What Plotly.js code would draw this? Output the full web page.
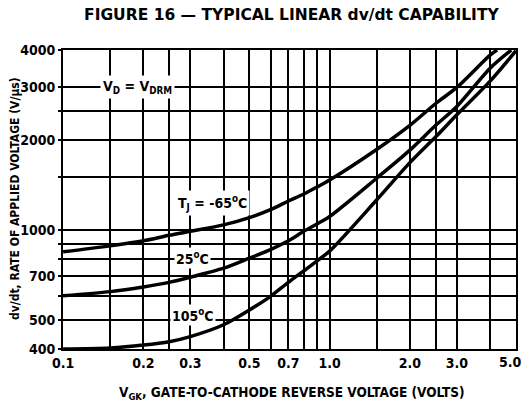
<!DOCTYPE html>
<html>
<head>
<meta charset="utf-8">
<script src="https://cdn.plot.ly/plotly-3.0.1.min.js"></script>
<style>html,body{margin:0;padding:0;background:#fff;}#chart{width:525px;height:406px;}</style>
</head>
<body>
<div id="chart"></div>
<script>
// Gate-to-cathode reverse voltage (V) and dv/dt (V/us)
const vgkMinus65 = [0.1, 0.15, 0.2, 0.25, 0.3, 0.4, 0.5, 0.6, 0.7, 0.8, 0.9, 1.0, 1.5, 2.0, 2.5, 3.0, 4.0, 4.25];
const dvdtMinus65 = [845, 885, 920, 960, 990, 1040, 1100, 1170, 1250, 1320, 1395, 1470, 1860, 2240, 2650, 3000, 3850, 4000];

const vgk25 = [0.1, 0.15, 0.2, 0.25, 0.3, 0.4, 0.5, 0.6, 0.7, 0.8, 0.9, 1.0, 1.5, 2.0, 2.5, 3.0, 4.0, 4.8];
const dvdt25 = [602, 622, 645, 668, 695, 745, 805, 860, 920, 990, 1050, 1110, 1490, 1850, 2240, 2590, 3480, 4000];

const vgk105 = [0.1, 0.15, 0.2, 0.25, 0.3, 0.4, 0.5, 0.6, 0.7, 0.8, 0.9, 1.0, 1.5, 2.0, 2.5, 3.0, 4.0, 5.0];
const dvdt105 = [400, 403, 412, 423, 440, 482, 540, 600, 668, 730, 790, 850, 1260, 1680, 2050, 2430, 3150, 3980];

const xGrid = [0.1, 0.15, 0.2, 0.25, 0.3, 0.4, 0.5, 0.6, 0.7, 0.8, 0.9, 1.0, 1.5, 2.0, 2.5, 3.0, 4.0, 5.0];
const xTickText = ["0.1", "", "0.2", "", "0.3", "", "0.5", "", "0.7", "", "", "1.0", "", "2.0", "", "3.0", "", ""];
const xLastTick = "5.0";  // drawn as an annotation so it stays inside the page edge
const yGrid = [400, 500, 600, 700, 800, 900, 1000, 1500, 2000, 2500, 3000, 4000];
const yTickText = ["400", "500", "", "700", "", "", "1000", "", "2000", "", "3000", "4000"];

const seriesNames = ["T<sub>J</sub> = -65<sup>o</sup>C", "25<sup>o</sup>C", "105<sup>o</sup>C"];

const narrow = '"Liberation Sans Narrow", "DejaVu Sans Condensed", "Liberation Sans", sans-serif';
const lineStyle = {color: '#000', width: 3.5, shape: 'spline', smoothing: 0.8};

const traces = [
  {x: vgkMinus65, y: dvdtMinus65, name: seriesNames[0], mode: 'lines', line: lineStyle, hoverinfo: 'x+y'},
  {x: vgk25, y: dvdt25, name: seriesNames[1], mode: 'lines', line: lineStyle, hoverinfo: 'x+y'},
  {x: vgk105, y: dvdt105, name: seriesNames[2], mode: 'lines', line: lineStyle, hoverinfo: 'x+y'}
];

const labelFont = {family: narrow, size: 14, color: '#000', weight: 700};
const tickFont = {family: narrow, size: 14, color: '#000', weight: 700};

const layout = {
  width: 525, height: 406,
  margin: {l: 63, r: 9, t: 50, b: 57},
  paper_bgcolor: '#fff', plot_bgcolor: '#fff',
  showlegend: false,
  title: {
    text: 'FIGURE 16 — TYPICAL LINEAR dv/dt CAPABILITY',
    font: {family: '"DejaVu Sans", "Liberation Sans", Arial, sans-serif', size: 15.5, color: '#000', weight: 900},
    x: 0.555, xanchor: 'center', y: 0.963, yanchor: 'middle'
  },
  xaxis: {
    type: 'log', range: [Math.log10(0.0999), Math.log10(5.002)],
    tickmode: 'array', tickvals: xGrid, ticktext: xTickText,
    showgrid: true, gridcolor: '#000', gridwidth: 2,
    showline: true, linecolor: '#000', linewidth: 2, mirror: true,
    ticks: '', zeroline: false,
    tickfont: tickFont
  },
  yaxis: {
    type: 'log', range: [Math.log10(399.8), Math.log10(4002)],
    tickmode: 'array', tickvals: yGrid, ticktext: yTickText,
    showgrid: true, gridcolor: '#000', gridwidth: 2,
    showline: true, linecolor: '#000', linewidth: 2, mirror: true,
    ticks: 'outside', ticklen: 3, tickwidth: 2, tickcolor: '#000', zeroline: false,
    tickfont: tickFont
  },
  annotations: [
    {text: xLastTick, x: Math.log10(xGrid[xGrid.length - 1]), y: 0, xref: 'x', yref: 'paper',
     xanchor: 'right', yanchor: 'top', xshift: 8, yshift: -3, showarrow: false, font: tickFont},
    {text: 'V<sub>D</sub> = V<sub>DRM</sub>', x: Math.log10(0.19), y: Math.log10(3000), xref: 'x', yref: 'y',
     showarrow: false, bgcolor: '#fff', borderpad: 2, font: labelFont},
    {text: seriesNames[0], x: Math.log10(0.362), y: Math.log10(1235), xref: 'x', yref: 'y',
     showarrow: false, bgcolor: '#fff', borderpad: 2, font: labelFont},
    {text: seriesNames[1], x: Math.log10(0.307), y: Math.log10(805), xref: 'x', yref: 'y',
     showarrow: false, bgcolor: '#fff', borderpad: 1, font: labelFont},
    {text: seriesNames[2], x: Math.log10(0.307), y: Math.log10(518), xref: 'x', yref: 'y',
     showarrow: false, bgcolor: '#fff', borderpad: 1, font: labelFont},
    {text: 'dv/dt, RATE OF APPLIED VOLTAGE (V/μs)', textangle: -90, xref: 'paper', yref: 'paper',
     x: -0.106, y: 0.505, xanchor: 'center', yanchor: 'middle', showarrow: false,
     font: {family: narrow, size: 12, color: '#000', weight: 700}},
    {text: 'V<sub>GK</sub>, GATE-TO-CATHODE REVERSE VOLTAGE (VOLTS)', xref: 'paper', yref: 'paper',
     x: 0.505, y: -0.147, xanchor: 'center', yanchor: 'middle', showarrow: false,
     font: {family: narrow, size: 13.5, color: '#000', weight: 700}}
  ]
};

Plotly.newPlot('chart', traces, layout, {staticPlot: true, displayModeBar: false});
</script>
</body>
</html>
